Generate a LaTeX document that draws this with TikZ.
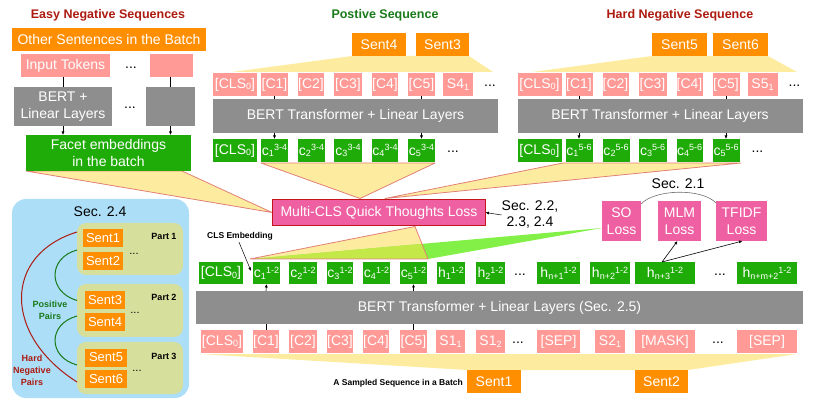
\documentclass[tikz,border=0pt]{standalone}
\usepackage{fontspec}
\setmainfont{Liberation Sans}
\usetikzlibrary{arrows.meta,calc}
\definecolor{tokpink}{RGB}{255,154,150}
\definecolor{tokgreen}{RGB}{32,172,8}
\definecolor{bertgray}{RGB}{142,142,142}
\definecolor{sentorange}{RGB}{255,142,0}
\definecolor{losspink}{RGB}{238,96,162}
\definecolor{lossborder}{RGB}{196,20,30}
\definecolor{funyellow}{RGB}{253,236,160}
\definecolor{funred}{RGB}{224,128,118}
\definecolor{bandgreen}{RGB}{130,240,70}
\definecolor{bandlime}{RGB}{196,232,72}
\definecolor{panelblue}{RGB}{172,222,248}
\definecolor{partolive}{RGB}{214,224,156}
\definecolor{titlered}{RGB}{172,26,16}
\definecolor{titlegreen}{RGB}{24,122,24}
\definecolor{arcgray}{RGB}{110,110,110}
\newcommand{\tsub}[1]{\raisebox{-1.5pt}{\fontsize{9}{9}\selectfont #1}}
\newcommand{\tsup}[1]{\raisebox{4.5pt}{\fontsize{9}{9}\selectfont #1}}
\tikzset{
  box/.style={inner sep=0pt, outer sep=0pt, text=white, align=center, font=\fontsize{14}{16}\selectfont},
  tokp/.style={box, fill=tokpink, minimum height=23pt},
  tokg/.style={box, fill=tokgreen, minimum height=23pt},
  gbar/.style={box, fill=bertgray},
  sentbox/.style={box, fill=sentorange, minimum height=23pt},
  sentsmall/.style={box, fill=sentorange, minimum height=18pt, font=\fontsize{13}{15}\selectfont},
  lossbox/.style={box, fill=losspink, minimum height=40pt, font=\fontsize{14}{17}\selectfont},
  dotsn/.style={font=\fontsize{14}{16}\selectfont, inner sep=0pt},
  conn/.style={draw=black, line width=0.6pt},
  arr/.style={conn, -{Latex[length=3.5pt,width=3pt]}},
  funnel/.style={fill=funyellow, draw=funred, line width=0.8pt, line join=round},
  smalllab/.style={font=\bfseries\fontsize{8.5}{10}\selectfont, inner sep=0pt},
  partlab/.style={font=\bfseries\fontsize{9}{11}\selectfont, inner sep=0pt},
  title/.style={font=\bfseries\fontsize{12.5}{14}\selectfont, inner sep=0pt},
  plain/.style={font=\fontsize{14}{16}\selectfont, inner sep=0pt, align=center},
}
\newcommand{\seqgroup}[4]{%
  \node[tokp, minimum width=44pt] (#1t0) at ({#2+235},84.5) {[CLS\tsub{0}]};
  \node[tokp, minimum width=27pt] (#1t1) at ({#2+274.5},84.5) {[C1]};
  \node[tokp, minimum width=26pt] (#1t2) at ({#2+311},84.5) {[C2]};
  \node[tokp, minimum width=28pt] (#1t3) at ({#2+348},84.5) {[C3]};
  \node[tokp, minimum width=26pt] (#1t4) at ({#2+385},84.5) {[C4]};
  \node[tokp, minimum width=27pt] (#1t5) at ({#2+421.5},84.5) {[C5]};
  \node[tokp, minimum width=30pt] (#1ts) at ({#2+458},84.5) {S#3\tsub{1}};
  \node[dotsn] (#1td) at ({#2+490},86) {...};
  \node[gbar, minimum width=285pt, minimum height=34pt] (#1bert) at ({#2+355.5},116) {BERT Transformer + Linear Layers};
  \node[tokg, minimum width=44pt] (#1g0) at ({#2+235},150.5) {[CLS\tsub{0}]};
  \node[tokg, minimum width=27pt] (#1g1) at ({#2+274.5},150.5) {c\tsub{1}\tsup{#4}};
  \node[tokg, minimum width=27pt] (#1g2) at ({#2+311.5},150.5) {c\tsub{2}\tsup{#4}};
  \node[tokg, minimum width=28pt] (#1g3) at ({#2+348},150.5) {c\tsub{3}\tsup{#4}};
  \node[tokg, minimum width=26pt] (#1g4) at ({#2+385},150.5) {c\tsub{4}\tsup{#4}};
  \node[tokg, minimum width=27pt] (#1g5) at ({#2+421.5},150.5) {c\tsub{5}\tsup{#4}};
  \node[dotsn] (#1gd) at ({#2+453},152) {...};
  \draw[conn] (#1t1.south) -- (#1t1.south |- #1bert.north);
  \draw[arr] (#1t1.south |- #1bert.south) -- (#1g1.north);
  \draw[conn] (#1t5.south) -- (#1t5.south |- #1bert.north);
  \draw[arr] (#1t5.south |- #1bert.south) -- (#1g5.north);
}
\begin{document}
\begin{tikzpicture}[x=1pt,y=-1pt]
\useasboundingbox (0,0) rectangle (814,403);

% ---------- titles
\node[title, text=titlered] (tEasy) at (108,15) {Easy Negative Sequences};
\node[title, text=titlegreen] (tPos) at (385,15) {Postive Sequence};
\node[title, text=titlered] (tHard) at (680,15) {Hard Negative Sequence};

% ---------- yellow shapes (behind)
\fill[funyellow] (352,56) -- (469,56) -- (493,72) -- (232,72) -- cycle;
\fill[funyellow] (652,56) -- (768,56) -- (797,72) -- (532,72) -- cycle;
\fill[funyellow] (200,354) -- (797,354) -- (688,370) -- (467,370) -- cycle;
\path[funnel] (26,171) -- (182,171) -- (272,212.5) -- cycle;
\path[funnel] (563,163) -- (741,163) -- (385,198.5) -- cycle;
\path[funnel] (261,163) -- (435,163) -- (360,198.5) -- cycle;
% bottom funnel + green band
\fill[funyellow] (415,226.5) -- (428,259) -- (250,259) -- cycle;
\fill[bandgreen] (250,259) -- (428,259) -- (602,228) -- cycle;
\begin{scope}
  \clip (415,226.5) -- (428,259) -- (250,259) -- cycle;
  \fill[bandlime] (250,259) -- (428,259) -- (602,228) -- cycle;
\end{scope}
\draw[funred, line width=0.8pt, line join=round] (415,226.5) -- (428,259) -- (250,259) -- cycle;

% ---------- left column
\node[box, fill=sentorange, minimum width=194pt, minimum height=23pt] (other) at (109,39.5) {Other Sentences in the Batch};
\node[tokp, minimum width=89pt] (inp) at (65.5,65.5) {Input Tokens};
\node[tokp, minimum width=43pt] (inp2) at (171.5,65.5) {};
\node[dotsn] (ld1) at (131,68) {...};
\node[gbar, minimum width=98pt, minimum height=39pt, font=\fontsize{14}{17}\selectfont] (bert1) at (63,106.5) {BERT +\\Linear Layers};
\node[gbar, minimum width=49pt, minimum height=39pt] (bert2) at (170.5,106.5) {};
\node[dotsn] (ld2) at (130,108) {...};
\node[box, fill=tokgreen, minimum width=165pt, minimum height=36pt, font=\fontsize{14}{17}\selectfont] (facet) at (108.5,153) {Facet embeddings\\in the batch};
\draw[conn] (bert1.north |- inp.south) -- (bert1.north);
\draw[arr] (bert1.south) -- (bert1.south |- facet.north);
\draw[conn] (bert2.north |- inp2.south) -- (bert2.north);
\draw[arr] (bert2.south) -- (bert2.south |- facet.north);

% ---------- positive and hard negative sequences
\node[sentbox, minimum width=54pt] (s4top) at (379,44.5) {Sent4};
\node[sentbox, minimum width=53pt] (s3top) at (442.5,44.5) {Sent3};
\node[sentbox, minimum width=55pt] (s5top) at (679.5,44.5) {Sent5};
\node[sentbox, minimum width=55pt] (s6top) at (740.5,44.5) {Sent6};
\seqgroup{p}{0}{4}{3-4}
\seqgroup{h}{304.5}{5}{5-6}

% ---------- loss
\node[box, fill=losspink, draw=lossborder, line width=1.6pt, minimum width=213pt, minimum height=26pt] (loss) at (379,212.5) {Multi-CLS Quick Thoughts Loss};
\node[plain] (sec22) at (530,215) {Sec. 2.2,\\2.3, 2.4};
\draw[arr, line width=0.5pt] (sec22.west) -- (loss.east);

\node[lossbox, minimum width=39pt] (so) at (621.5,221) {SO\\Loss};
\node[lossbox, minimum width=43pt] (mlm) at (679.5,221) {MLM\\Loss};
\node[lossbox, minimum width=51pt] (tfidf) at (741.5,221) {TFIDF\\Loss};
\node[plain] (sec21) at (678,184) {Sec. 2.1};
\draw[arcgray, line width=0.6pt] ($(so.north east)+(0,3)$) .. controls +(14,-15) and +(-14,-15) .. ($(tfidf.north west)+(0,2)$);

% ---------- main sequence
\node[tokg, minimum width=44pt, minimum height=22pt] (gcls) at (221,273) {[CLS\tsub{0}]};
\node[tokg, minimum width=27pt, minimum height=22pt] (g1) at (266.5,273) {c\tsub{1}\tsup{1-2}};
\node[tokg, minimum width=28pt, minimum height=22pt] (g2) at (303,273) {c\tsub{2}\tsup{1-2}};
\node[tokg, minimum width=26pt, minimum height=22pt] (g3) at (340,273) {c\tsub{3}\tsup{1-2}};
\node[tokg, minimum width=27pt, minimum height=22pt] (g4) at (376.5,273) {c\tsub{4}\tsup{1-2}};
\node[tokg, minimum width=27pt, minimum height=22pt] (g5) at (413.5,273) {c\tsub{5}\tsup{1-2}};
\node[tokg, minimum width=28pt, minimum height=22pt] (gh1) at (451,273) {h\tsub{1}\tsup{1-2}};
\node[tokg, minimum width=29pt, minimum height=22pt] (gh2) at (490.5,273) {h\tsub{2}\tsup{1-2}};
\node[dotsn] (gd1) at (520,275) {...};
\node[tokg, minimum width=43pt, minimum height=22pt] (ghn1) at (558.5,273) {h\tsub{n+1}\tsup{1-2}};
\node[tokg, minimum width=40pt, minimum height=22pt] (ghn2) at (610,273) {h\tsub{n+2}\tsup{1-2}};
\node[tokg, minimum width=60pt, minimum height=22pt] (ghn3) at (665,273) {h\tsub{n+3}\tsup{1-2}};
\node[dotsn] (gd2) at (720,275) {...};
\node[tokg, minimum width=60pt, minimum height=22pt] (ghnm) at (767,273) {h\tsub{n+m+2}\tsup{1-2}};

\node[gbar, minimum width=607pt, minimum height=33pt] (mbert) at (499.5,307.5) {BERT Transformer + Linear Layers (Sec. 2.5)};

\node[tokp, minimum width=42pt] (pcls) at (222,341.5) {[CLS\tsub{0}]};
\node[tokp, minimum width=26pt] (p1) at (266,341.5) {[C1]};
\node[tokp, minimum width=28pt] (p2) at (303,341.5) {[C2]};
\node[tokp, minimum width=26pt] (p3) at (340,341.5) {[C3]};
\node[tokp, minimum width=26pt] (p4) at (376,341.5) {[C4]};
\node[tokp, minimum width=27pt] (p5) at (413.5,341.5) {[C5]};
\node[tokp, minimum width=29pt] (ps11) at (450.5,341.5) {S1\tsub{1}};
\node[tokp, minimum width=29pt] (ps12) at (490.5,341.5) {S1\tsub{2}};
\node[dotsn] (pd1) at (518,343) {...};
\node[tokp, minimum width=43pt] (psep) at (558.5,341.5) {[SEP]};
\node[tokp, minimum width=30pt] (ps21) at (610,341.5) {S2\tsub{1}};
\node[tokp, minimum width=60pt] (pmask) at (665,341.5) {[MASK]};
\node[dotsn] (pd2) at (718,343) {...};
\node[tokp, minimum width=60pt] (psep2) at (767,341.5) {[SEP]};

\draw[conn] (p1.north) -- (p1.north |- mbert.south);
\draw[arr] (p1.north |- mbert.north) -- (g1.south);
\draw[conn] (p5.north) -- (p5.north |- mbert.south);
\draw[arr] (p5.north |- mbert.north) -- (g5.south);

\draw[arr] ($(ghn3.north)+(-3,0)$) -- ($(mlm.south)+(-2,0)$);
\draw[arr] ($(ghn3.north)+(-3,0)$) -- ($(tfidf.south)+(1,0)$);

\node[sentbox, minimum width=54pt] (sent1) at (494,381.5) {Sent1};
\node[sentbox, minimum width=53pt] (sent2) at (661.5,381.5) {Sent2};
\node[smalllab, anchor=east] (samp) at ($(sent1.west)+(-4,1.5)$) {A Sampled Sequence in a Batch};

\node[smalllab] (clsemb) at (240,236) {CLS Embedding};
\draw[arr, line width=0.5pt] ($(clsemb.south)+(-1,2)$) -- ($(g1.west)+(-2,-2)$);

% ---------- left panel
\fill[panelblue, rounded corners=14pt] (12,199) rectangle (189,398);
\node[plain] (sec24) at (100,212) {Sec. 2.4};
\node[fill=partolive, rounded corners=9pt, minimum width=106pt, minimum height=52pt, inner sep=0pt] (part1) at (130,249) {};
\node[fill=partolive, rounded corners=9pt, minimum width=106pt, minimum height=53pt, inner sep=0pt] (part2) at (130,310.5) {};
\node[fill=partolive, rounded corners=9pt, minimum width=106pt, minimum height=52pt, inner sep=0pt] (part3) at (130,368) {};
\node[sentsmall, minimum width=40pt] (s1) at (103,238) {Sent1};
\node[sentsmall, minimum width=40pt] (s2) at (103,261) {Sent2};
\node[sentsmall, minimum width=40pt] (s3) at (105,300.5) {Sent3};
\node[sentsmall, minimum width=40pt] (s4) at (105,322) {Sent4};
\node[sentsmall, minimum width=42pt] (s5) at (106,357.5) {Sent5};
\node[sentsmall, minimum width=42pt] (s6) at (106,379) {Sent6};
\node[dotsn, font=\fontsize{11}{12}\selectfont] (d1) at (134,254) {...};
\node[dotsn, font=\fontsize{11}{12}\selectfont] (d2) at (135,313) {...};
\node[dotsn, font=\fontsize{11}{12}\selectfont] (d3) at (137,371) {...};
\node[partlab] (pl1) at (164,236) {Part 1};
\node[partlab] (pl2) at (164,297) {Part 2};
\node[partlab] (pl3) at (164,356) {Part 3};
\draw[titlered, line width=1pt] ($(s1.west)+(-6,-6)$) .. controls (3,255) and (3,335) .. ($(s6.west)+(-8,3)$);
\draw[titlegreen, line width=1pt] ($(s2.west)+(-6,-11)$) .. controls (47.7,258) and (47.7,292) .. ($(s3.west)+(-8,0)$);
\draw[titlegreen, line width=1pt] ($(s4.west)+(-8,-6)$) .. controls (47.7,324) and (47.7,357) .. ($(s5.west)+(-8,7.5)$);
\node[partlab, text=titlegreen, align=center, font=\bfseries\fontsize{9}{12}\selectfont] (pospairs) at (50,310) {Positive\\Pairs};
\node[partlab, text=titlered, align=center, font=\bfseries\fontsize{9}{12}\selectfont] (hardpairs) at (32,370) {Hard\\Negative\\Pairs};
\end{tikzpicture}
\end{document}
